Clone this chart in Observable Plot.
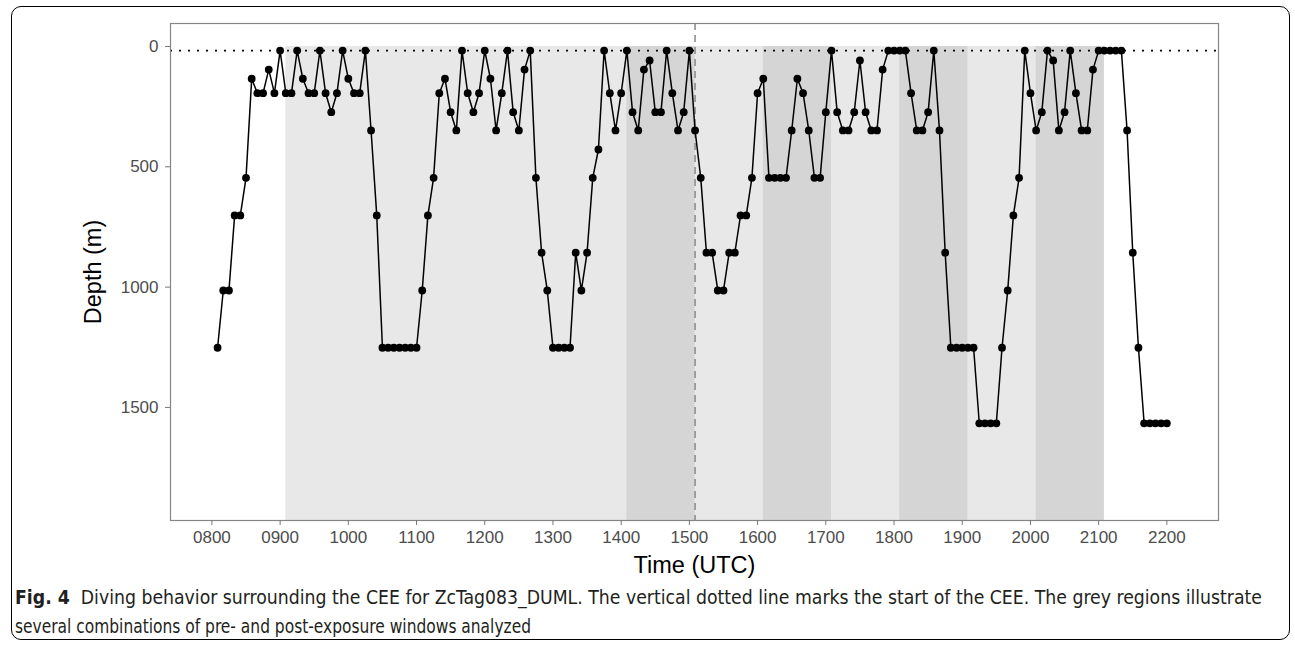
<!DOCTYPE html>
<html><head><meta charset="utf-8">
<script src="https://cdn.jsdelivr.net/npm/d3@7"></script>
<script src="https://cdn.jsdelivr.net/npm/@observablehq/plot@0.6"></script>
<style>
html,body{margin:0;padding:0;background:#fff;}
#wrap{position:relative;width:1295px;height:646px;overflow:hidden;font-family:"Liberation Sans",Arial,sans-serif;}
#box{position:absolute;left:11px;top:6px;width:1279px;height:634px;border:1.2px solid #000;border-radius:10px;box-sizing:border-box;pointer-events:none;}
#chart{position:absolute;left:0;top:0;}
#caption{position:absolute;left:15px;top:583px;font-family:"DejaVu Sans Condensed","Liberation Sans Narrow","Liberation Sans",sans-serif;font-stretch:condensed;font-size:20px;line-height:29px;color:#231f20;white-space:nowrap;}
#caption div{transform-origin:0 50%;display:inline-block;}
</style></head><body>
<div id="wrap">
<div id="chart"></div>
<div id="caption"><div id="cap1"><b>Fig. 4</b>&nbsp; Diving behavior surrounding the CEE for ZcTag083_DUML. The vertical dotted line marks the start of the CEE. The grey regions illustrate</div><br><div id="cap2">several combinations of pre- and post-exposure windows analyzed</div></div>
<div id="box"></div>
</div>
<script>
// Sample times (HHMM, UTC), one dive-depth record every 5 min
const times = [
  805,810,815,820,825,830,835,840,845,850,855,
  900,905,910,915,920,925,930,935,940,945,950,955,
  1000,1005,1010,1015,1020,1025,1030,1035,1040,1045,1050,1055,
  1100,1105,1110,1115,1120,1125,1130,1135,1140,1145,1150,1155,
  1200,1205,1210,1215,1220,1225,1230,1235,1240,1245,1250,1255,
  1300,1305,1310,1315,1320,1325,1330,1335,1340,1345,1350,1355,
  1400,1405,1410,1415,1420,1425,1430,1435,1440,1445,1450,1455,
  1500,1505,1510,1515,1520,1525,1530,1535,1540,1545,1550,1555,
  1600,1605,1610,1615,1620,1625,1630,1635,1640,1645,1650,1655,
  1700,1705,1710,1715,1720,1725,1730,1735,1740,1745,1750,1755,
  1800,1805,1810,1815,1820,1825,1830,1835,1840,1845,1850,1855,
  1900,1905,1910,1915,1920,1925,1930,1935,1940,1945,1950,1955,
  2000,2005,2010,2015,2020,2025,2030,2035,2040,2045,2050,2055,
  2100,2105,2110,2115,2120,2125,2130,2135,2140,2145,2150,2155,
  2200
];
// Depth (m) at each sample
const depths = [
  1252,1014,1014,702,702,546,134,194,194,96,194,
  17,194,194,17,134,194,194,17,194,273,194,17,
  134,194,194,17,349,702,1252,1252,1252,1252,1252,1252,
  1252,1014,702,546,194,134,273,349,17,194,273,194,
  17,134,349,194,17,273,349,96,17,546,857,1014,
  1252,1252,1252,1252,857,1014,857,546,428,17,194,349,
  194,17,273,349,96,58,273,273,17,194,349,273,
  17,349,546,857,857,1014,1014,857,857,702,702,546,
  194,134,546,546,546,546,349,134,194,349,546,546,
  273,17,273,349,349,273,58,273,349,349,96,17,
  17,17,17,194,349,349,273,17,349,857,1252,1252,
  1252,1252,1252,1566,1566,1566,1566,1252,1014,702,546,17,
  194,349,273,17,58,349,273,17,194,349,349,96,
  17,17,17,17,17,349,857,1252,1566,1566,1566,1566,
  1566
];
// Analysis windows (HHMM)
const windowStart = [905, 1405, 1605, 1805, 2005];
const windowEnd   = [2105, 1505, 1705, 1905, 2105];
const windowKind  = ["outer", "inner", "inner", "inner", "inner"];
const ceeStart = [1505];
const surfaceDepth = [17];
const xTicks = [800,900,1000,1100,1200,1300,1400,1500,1600,1700,1800,1900,2000,2100,2200];
const yTicks = [0, 500, 1000, 1500];

const toHours = v => Math.floor(v / 100) + (v % 100) / 60;
const dives = times.map((t, i) => ({t: toHours(t), depth: depths[i]}));
const windows = windowStart.map((s, i) => ({x1: toHours(s), x2: toHours(windowEnd[i]), kind: windowKind[i]}));
const yDomain = [-95.6, 1970];

const chart = Plot.plot({
  width: 1295, height: 600,
  marginLeft: 170, marginRight: 77, marginTop: 23, marginBottom: 80,
  style: {background: "transparent", fontFamily: "'Liberation Sans', Arial, sans-serif"},
  x: {domain: [7.393, 22.757]},
  y: {domain: yDomain, reverse: true},
  marks: [
    Plot.rect(windows, {x1: "x1", x2: "x2", y1: () => 0, y2: () => yDomain[1],
      fill: d => d.kind === "outer" ? "#e8e8e8" : "#d5d5d5"}),
    Plot.ruleY(surfaceDepth, {stroke: "#000", strokeWidth: 1.9, strokeDasharray: "2,7"}),
    Plot.ruleX(ceeStart.map(toHours), {stroke: "#888", strokeWidth: 1.5, strokeDasharray: "7,5"}),
    Plot.line(dives, {x: "t", y: "depth", stroke: "#000", strokeWidth: 1.5}),
    Plot.dot(dives, {x: "t", y: "depth", r: 3.9, fill: "#000"}),
    Plot.frame({stroke: "#858585", strokeWidth: 1.2}),
    Plot.axisX(xTicks.map(toHours), {tickSize: 5, tickPadding: 5, fontSize: 17, fill: "#4d4d4d", stroke: "#777",
      tickFormat: d => String(Math.round(d * 100)).padStart(4, "0"), label: null}),
    Plot.axisX([], {label: "Time (UTC)", labelAnchor: "center", labelOffset: 52, fontSize: 23.5, fill: "#000", tickSize: 0, labelArrow: "none"}),
    Plot.axisY(yTicks, {tickSize: 5, tickPadding: 7, fontSize: 17, fill: "#4d4d4d", stroke: "#777",
      tickFormat: d => String(d), label: null}),
    Plot.axisY([], {label: "Depth (m)", labelAnchor: "center", labelOffset: 86, fontSize: 23.5, fill: "#000", tickSize: 0, labelArrow: "none"})
  ]
});
document.getElementById("chart").appendChild(chart);

// fit caption lines to the reference widths
const c1 = document.getElementById("cap1"), c2 = document.getElementById("cap2");
c1.style.transform = `scaleX(${1247 / c1.getBoundingClientRect().width})`;
c2.style.transform = `scaleX(${516 / c2.getBoundingClientRect().width})`;
</script></body></html>
